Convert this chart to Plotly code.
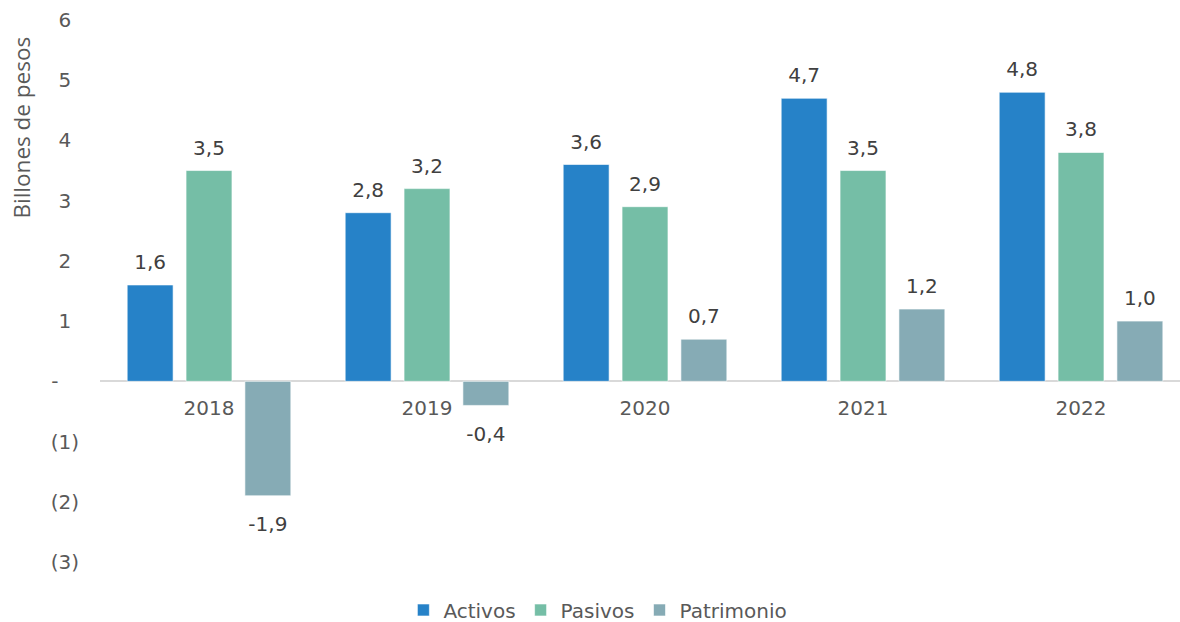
import plotly.graph_objects as go

years = ["2018", "2019", "2020", "2021", "2022"]
activos = [1.6, 2.8, 3.6, 4.7, 4.8]
pasivos = [3.5, 3.2, 2.9, 3.5, 3.8]
patrimonio = [-1.9, -0.4, 0.7, 1.2, 1.0]

series_names = ["Activos", "Pasivos", "Patrimonio"]
series_values = [activos, pasivos, patrimonio]
series_colors = ["#2682C8", "#75BEA6", "#86ABB5"]

y_tick_vals = [-3, -2, -1, 0, 1, 2, 3, 4, 5, 6]
HID = "<span style='color:rgba(0,0,0,0)'>%s</span>"
y_tick_text = ["(3)", "(2)", "(1)", "-" + HID % "0)",
               "1" + HID % ")", "2" + HID % ")", "3" + HID % ")",
               "4" + HID % ")", "5" + HID % ")", "6" + HID % ")"]

NUMFONT = "Verdana, DejaVu Sans, sans-serif"

def fmt(v):
    return ("%.1f" % v).replace(".", ",")

fig = go.Figure()
for name, vals, col in zip(series_names, series_values, series_colors):
    fig.add_trace(go.Bar(
        name=name, x=years, y=vals, offsetgroup=name, alignmentgroup="g",
        marker=dict(color=col, line=dict(color="rgba(255,255,255,0.6)", width=1)),
        hoverinfo="skip",
    ))
for name, vals in zip(series_names, series_values):
    fig.add_trace(go.Scatter(
        x=years, y=vals, offsetgroup=name, alignmentgroup="g", mode="markers+text",
        text=[fmt(v) for v in vals],
        textposition=["top center" if v >= 0 else "bottom center" for v in vals],
        marker=dict(size=[16 if v >= 0 else 31 for v in vals], color="rgba(0,0,0,0)",
                    line=dict(width=0)),
        textfont=dict(family=NUMFONT, size=20, color="#404040"),
        showlegend=False, hoverinfo="skip", cliponaxis=False,
    ))

fig.update_layout(
    width=1180, height=622,
    margin=dict(l=100, r=0, t=20, b=60),
    paper_bgcolor="white", plot_bgcolor="white",
    barmode="group", bargap=0.19, bargroupgap=0.22,
    scattermode="group", scattergap=0.19,
    showlegend=True,
    legend=dict(orientation="h", x=0.461, xanchor="center",
                yref="container", y=0.0193, yanchor="middle",
                font=dict(family=NUMFONT, size=20, color="#595959"),
                itemwidth=30, traceorder="normal"),
    xaxis=dict(type="category", range=[-0.5, 4.454], anchor="free", position=1/3,
               automargin=False,
               showline=False, showgrid=False, ticks="", ticklabelstandoff=13,
               tickfont=dict(family=NUMFONT, size=20, color="#595959")),
    yaxis=dict(range=[-3, 6], tickvals=y_tick_vals, ticktext=y_tick_text,
               automargin=False,
               showgrid=False, zeroline=True, zerolinecolor="#D9D9D9", zerolinewidth=1.5,
               showline=False, ticks="", ticklabelstandoff=20,
               tickfont=dict(family=NUMFONT, size=20, color="#595959")),
    annotations=[dict(text="Billones de pesos", textangle=-90, xref="paper", yref="paper",
                      x=-0.0731, y=0.8017, xanchor="center", yanchor="middle", showarrow=False,
                      font=dict(family="Open Sans, sans-serif", size=22.5, color="#595959"))],
)

fig.write_html("out.html", config={"displayModeBar": False},
               post_script="document.body.style.margin='0';document.body.style.overflow='hidden';")
